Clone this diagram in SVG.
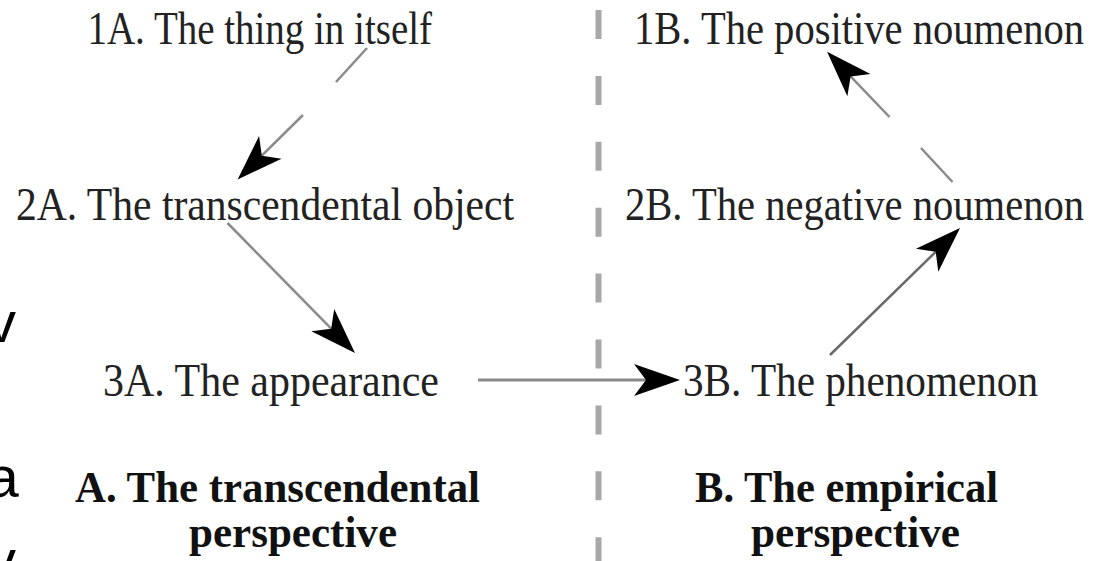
<svg xmlns="http://www.w3.org/2000/svg" width="1101" height="561" viewBox="0 0 1101 561">
  <style>
    .lbl { font-family: "Liberation Serif", "Times New Roman", serif; font-size: 46px; fill: #222; }
    .hd { font-family: "Liberation Serif", "Times New Roman", serif; font-size: 44px; font-weight: bold; fill: #111; }
    .frag { font-family: "Liberation Sans", Arial, sans-serif; font-size: 58px; fill: #000; }
    .conn { fill: none; stroke: #8a8a8a; stroke-width: 2.5; }
    .divider { stroke: #a8a8a8; stroke-width: 6; stroke-dasharray: 29 36.9; }
  </style>
  <defs>
    <marker id="arrow" markerUnits="userSpaceOnUse" viewBox="0 -20 50 40" markerWidth="50" markerHeight="40" refX="12" refY="0" orient="auto" overflow="visible">
      <path d="M46,0 L0,-16 L12,0 L0,16 Z" fill="#000"/>
    </marker>
  </defs>
  <rect width="1101" height="561" fill="#fff"/>

  <g id="fragments">
    <text class="frag" x="-13" y="342">v</text>
    <text class="frag" x="-13.5" y="497">a</text>
    <text class="frag" x="-13" y="580">v</text>
  </g>

  <g id="divider">
    <line class="divider" x1="598.5" y1="10" x2="598.5" y2="561"/>
  </g>

  <g id="node-1A">
    <text class="lbl" x="87.5" y="44" textLength="344.5" lengthAdjust="spacingAndGlyphs">1A. The thing in itself</text>
  </g>
  <g id="node-2A">
    <text class="lbl" x="16" y="220" textLength="498" lengthAdjust="spacingAndGlyphs">2A. The transcendental object</text>
  </g>
  <g id="node-3A">
    <text class="lbl" x="103" y="396" textLength="336" lengthAdjust="spacingAndGlyphs">3A. The appearance</text>
  </g>
  <g id="node-1B">
    <text class="lbl" x="634" y="44" textLength="450" lengthAdjust="spacingAndGlyphs">1B. The positive noumenon</text>
  </g>
  <g id="node-2B">
    <text class="lbl" x="625" y="220" textLength="459" lengthAdjust="spacingAndGlyphs">2B. The negative noumenon</text>
  </g>
  <g id="node-3B">
    <text class="lbl" x="683" y="396" textLength="355" lengthAdjust="spacingAndGlyphs">3B. The phenomenon</text>
  </g>
  <g id="caption-A">
    <text class="hd" x="75" y="502" textLength="405" lengthAdjust="spacingAndGlyphs">A. The transcendental</text>
    <text class="hd" x="189" y="547" textLength="208" lengthAdjust="spacingAndGlyphs">perspective</text>
  </g>
  <g id="caption-B">
    <text class="hd" x="695" y="502" textLength="303" lengthAdjust="spacingAndGlyphs">B. The empirical</text>
    <text class="hd" x="751" y="547" textLength="209" lengthAdjust="spacingAndGlyphs">perspective</text>
  </g>

  <g id="connectors">
    <path class="conn" d="M367,48 L336,82 M303,115 L261.8,155.7" marker-end="url(#arrow)"/>
    <path class="conn" d="M227.5,223 L331.2,328.7" marker-end="url(#arrow)"/>
    <path class="conn" style="stroke-width:3" d="M478,380 L646,380" marker-end="url(#arrow)"/>
    <path class="conn" style="stroke:#6a6a6a" d="M830,355 L935.7,251.8" marker-end="url(#arrow)"/>
    <path class="conn" d="M952.5,182 L921,148 M889.5,117 L850.6,76.4" marker-end="url(#arrow)"/>
  </g>
</svg>
